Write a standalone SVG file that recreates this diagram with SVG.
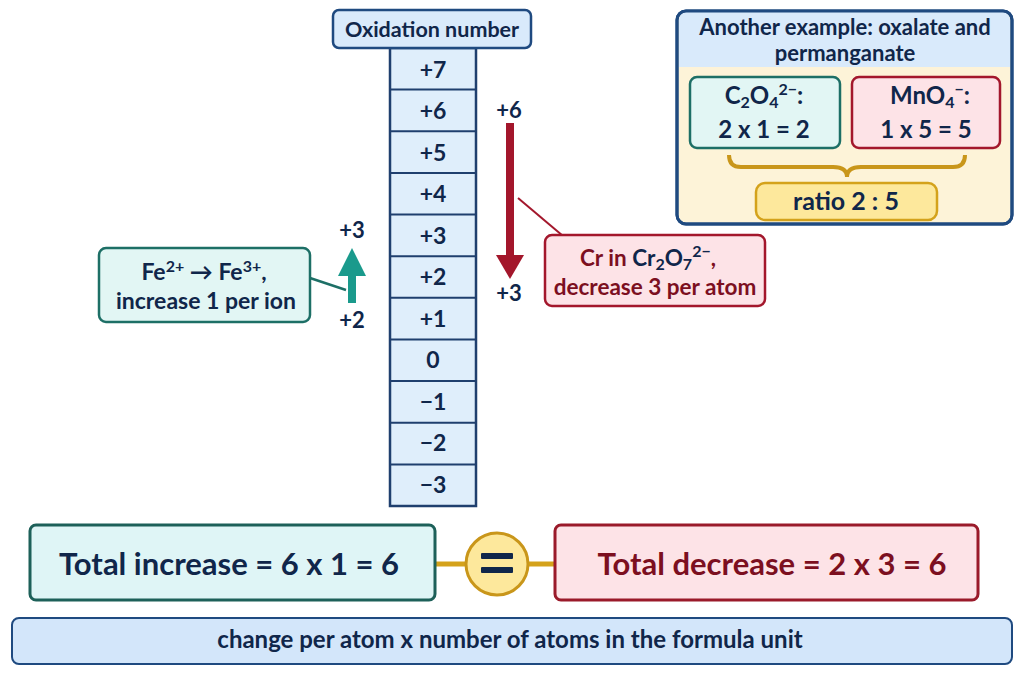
<svg xmlns="http://www.w3.org/2000/svg" width="1024" height="683" viewBox="0 0 1024 683">
<style>
text{font-family:Lato,"Open Sans","Liberation Sans",sans-serif;font-weight:700;text-anchor:middle}
.navy{fill:#10264a}
.red{fill:#7c0f1f}
.cell{font-size:23px;fill:#10264a}
.lbl{font-size:22px;fill:#10264a}
.gbox{fill:#e2f6f4;stroke:#1d6f66;stroke-width:2.5}
.rbox{fill:#fde3e7;stroke:#a3172c;stroke-width:2.5}
.bbox{fill:#d9eafb;stroke:#1f4a80;stroke-width:2.5}
.ybox{fill:#fde89c;stroke:#d4a21b;stroke-width:2.5}
</style>
<rect width="1024" height="683" fill="#ffffff"/>

<g id="oxidation-scale">
<rect x="390" y="48" width="86" height="458" fill="#dfeefb" stroke="#1f3f6e" stroke-width="2.5"/>
<g stroke="#1f3f6e" stroke-width="2">
<line x1="390" y1="89.6" x2="476" y2="89.6"/>
<line x1="390" y1="131.3" x2="476" y2="131.3"/>
<line x1="390" y1="172.9" x2="476" y2="172.9"/>
<line x1="390" y1="214.5" x2="476" y2="214.5"/>
<line x1="390" y1="256.2" x2="476" y2="256.2"/>
<line x1="390" y1="297.8" x2="476" y2="297.8"/>
<line x1="390" y1="339.5" x2="476" y2="339.5"/>
<line x1="390" y1="381.1" x2="476" y2="381.1"/>
<line x1="390" y1="422.7" x2="476" y2="422.7"/>
<line x1="390" y1="464.4" x2="476" y2="464.4"/>
</g>
<text class="cell" x="433" y="78">+7</text>
<text class="cell" x="433" y="119">+6</text>
<text class="cell" x="433" y="161">+5</text>
<text class="cell" x="433" y="202">+4</text>
<text class="cell" x="433" y="244">+3</text>
<text class="cell" x="433" y="285">+2</text>
<text class="cell" x="433" y="327">+1</text>
<text class="cell" x="433" y="368">0</text>
<text class="cell" x="433" y="410">−1</text>
<text class="cell" x="433" y="451">−2</text>
<text class="cell" x="433" y="493">−3</text>
</g>

<g id="scale-header">
<rect x="333" y="10" width="198" height="38" rx="6" class="bbox"/>
<text x="432" y="37" font-size="21.5" class="navy">Oxidation number</text>
</g>

<g id="connectors">
<line x1="310" y1="278" x2="346" y2="290" stroke="#1d6f66" stroke-width="2.5"/>
<line x1="518" y1="198" x2="563" y2="236" stroke="#a3172c" stroke-width="2"/>
<line x1="435" y1="564" x2="466" y2="564" stroke="#d4a21b" stroke-width="5"/>
<line x1="528" y1="564" x2="556" y2="564" stroke="#d4a21b" stroke-width="5"/>
</g>

<g id="fe-arrow">
<rect x="348" y="274" width="8" height="29" fill="#1a9a8c"/>
<polygon points="338,276 366,276 352,248" fill="#1a9a8c"/>
<text class="lbl" x="352" y="238">+3</text>
<text class="lbl" x="352" y="328">+2</text>
</g>

<g id="fe-box">
<rect x="99" y="248" width="211" height="74" rx="7" class="gbox"/>
<text x="204" y="280" font-size="23" class="navy">Fe<tspan font-size="16" dy="-8">2+</tspan><tspan dy="8"> → Fe</tspan><tspan font-size="16" dy="-8">3+</tspan><tspan dy="8">,</tspan></text>
<text x="206" y="309" font-size="23" class="navy">increase 1 per ion</text>
</g>

<g id="cr-arrow">
<rect x="506" y="123" width="8" height="135" fill="#a3162b"/>
<polygon points="496,255 524,255 510,279" fill="#a3162b"/>
<text class="lbl" x="509" y="118">+6</text>
<text class="lbl" x="509" y="301">+3</text>
</g>

<g id="cr-box">
<rect x="545" y="235" width="220" height="71" rx="7" class="rbox"/>
<text x="648" y="266" font-size="22.5" class="red">Cr in <tspan class="navy">Cr<tspan font-size="16" dy="4">2</tspan><tspan dy="-4">O</tspan><tspan font-size="16" dy="4">7</tspan><tspan font-size="16" dy="-13">2−</tspan></tspan><tspan dy="9">,</tspan></text>
<text x="655" y="295" font-size="22.5" class="red">decrease 3 per atom</text>
</g>

<g id="example-panel">
<rect x="677" y="11" width="335" height="213" rx="9" fill="#fdf3d8" stroke="#1f4a80" stroke-width="3"/>
<path d="M679,67 V20 a8,8 0 0 1 8,-8 H1002 a8,8 0 0 1 8,8 V67 Z" fill="#d9eafb"/>
<rect x="677" y="11" width="335" height="213" rx="9" fill="none" stroke="#1f4a80" stroke-width="3"/>
<text x="845" y="35" font-size="22" class="navy">Another example: oxalate and</text>
<text x="845" y="61" font-size="22" class="navy">permanganate</text>
</g>

<g id="c2o4-box">
<rect x="690" y="77" width="150" height="71" rx="7" class="gbox"/>
<text x="764" y="104" font-size="24" class="navy">C<tspan font-size="16" dy="4">2</tspan><tspan dy="-4">O</tspan><tspan font-size="16" dy="4">4</tspan><tspan font-size="16" dy="-13">2−</tspan><tspan dy="9">:</tspan></text>
<text x="764" y="138" font-size="24" class="navy">2 x 1 = 2</text>
</g>

<g id="mno4-box">
<rect x="852" y="77" width="148" height="71" rx="7" class="rbox"/>
<text x="930" y="104" font-size="24" class="navy">MnO<tspan font-size="16" dy="4">4</tspan><tspan font-size="16" dy="-13">−</tspan><tspan dy="9">:</tspan></text>
<text x="926" y="138" font-size="24" class="navy">1 x 5 = 5</text>
</g>

<g id="brace">
<path d="M729,155 q0,12 12,12 H833 q14,0 14,10 q0,-10 14,-10 H953 q12,0 12,-12" fill="none" stroke="#c9961a" stroke-width="4"/>
</g>

<g id="ratio-box">
<rect x="756" y="183" width="181" height="37" rx="9" class="ybox"/>
<text x="846" y="210" font-size="25" class="navy">ratio 2 : 5</text>
</g>

<g id="total-increase">
<rect x="30" y="525" width="405" height="75" rx="6" fill="#dff5f6" stroke="#1d6059" stroke-width="3"/>
<text x="229" y="575" font-size="31" class="navy">Total increase = 6 x 1 = 6</text>
</g>

<g id="equals">
<circle cx="497" cy="564" r="31" fill="#fde89c" stroke="#c9961a" stroke-width="3"/>
<rect x="481" y="553" width="32" height="6" rx="1" fill="#10264a"/>
<rect x="481" y="567" width="32" height="6" rx="1" fill="#10264a"/>
</g>

<g id="total-decrease">
<rect x="555" y="525" width="423" height="75" rx="6" fill="#fde3e7" stroke="#9a1a2a" stroke-width="3"/>
<text x="772" y="575" font-size="31" class="red">Total decrease = 2 x 3 = 6</text>
</g>

<g id="footer">
<rect x="12" y="618" width="1000" height="46" rx="7" fill="#d3e6fa" stroke="#1f4a80" stroke-width="2"/>
<text x="510" y="648" font-size="24" class="navy">change per atom x number of atoms in the formula unit</text>
</g>
</svg>
